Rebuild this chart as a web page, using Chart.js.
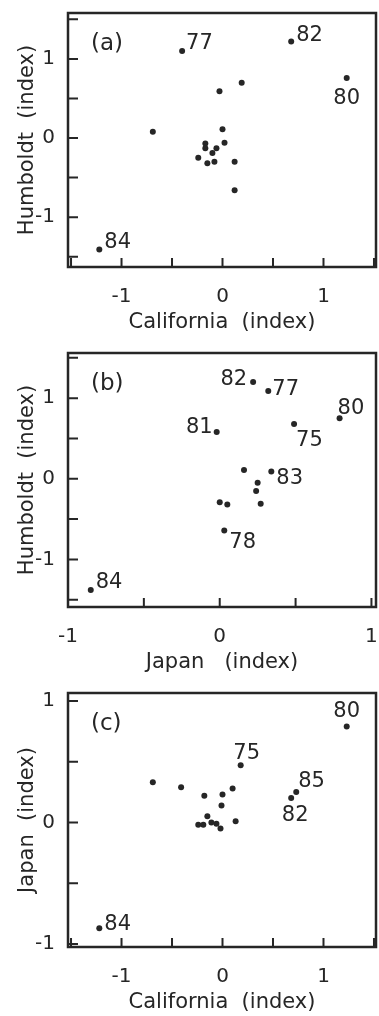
<!DOCTYPE html>
<html>
<head>
<meta charset="utf-8">
<script src="https://cdn.jsdelivr.net/npm/chart.js@4"></script>
<style>
  body { margin: 0; background: #fff; }
  canvas { display: block; }
</style>
</head>
<body>
<canvas id="chartA" width="379" height="340"></canvas>
<canvas id="chartB" width="379" height="340"></canvas>
<canvas id="chartC" width="379" height="336"></canvas>
<script>
// (a) California vs Humboldt
const aCalifornia = [-0.40, 0.68, 1.23, 0.19, -0.03, -0.69, 0.00, 0.02, -0.17, -0.17, -0.06, -0.10, -0.24, -0.15, -0.08, 0.12, 0.12, -1.22];
const aHumboldt   = [1.10, 1.22, 0.76, 0.70, 0.59, 0.08, 0.11, -0.06, -0.07, -0.13, -0.13, -0.19, -0.25, -0.32, -0.30, -0.30, -0.66, -1.41];
const aYears      = ['77', '82', '80', '', '', '', '', '', '', '', '', '', '', '', '', '', '', '84'];

// (b) Japan vs Humboldt
const bJapan      = [0.22, 0.32, 0.79, -0.02, 0.49, 0.16, 0.34, 0.25, 0.24, 0.00, 0.05, 0.27, 0.03, -0.85];
const bHumboldt   = [1.20, 1.09, 0.75, 0.58, 0.68, 0.11, 0.09, -0.05, -0.15, -0.29, -0.32, -0.31, -0.64, -1.38];
const bYears      = ['82', '77', '80', '81', '75', '', '83', '', '', '', '', '', '78', '84'];

// (c) California vs Japan
const cCalifornia = [1.23, 0.18, 0.73, 0.68, -0.69, -0.41, -0.18, 0.00, 0.10, -0.01, -0.15, 0.13, -0.24, -0.19, -0.11, -0.06, -0.02, -1.22];
const cJapan      = [0.79, 0.47, 0.25, 0.20, 0.33, 0.29, 0.22, 0.23, 0.28, 0.14, 0.05, 0.01, -0.02, -0.02, 0.00, -0.01, -0.05, -0.87];
const cYears      = ['80', '75', '85', '82', '', '', '', '', '', '', '', '', '', '', '', '', '', '84'];

const INK = '#262626';
const FAMILY = '"DejaVu Sans", sans-serif';

// where each year label sits relative to its dot: [dx, dy(baseline), align]
const placeA = { '77': [4, -2, 'left'], '82': [5, 0, 'left'], '80': [0, 26, 'center'], '84': [5, -2, 'left'] };
const placeB = { '82': [-6, 3, 'right'], '77': [4, 4, 'left'], '80': [-2, -4, 'left'], '81': [-4, 1, 'right'],
                 '75': [2, 22, 'left'], '83': [5, 12, 'left'], '78': [5, 18, 'left'], '84': [5, -2, 'left'] };
const placeC = { '80': [0, -9, 'center'], '75': [6, -6, 'center'], '85': [2, -5, 'left'], '82': [4, 23, 'center'], '84': [5, 2, 'left'] };

function framePlugin(letter, years, place) {
    return {
        id: 'frame',
        afterDraw(chart) {
            const { ctx, chartArea: a, scales: { x, y } } = chart;
            ctx.save();
            ctx.strokeStyle = INK;
            ctx.lineWidth = 2.5;
            ctx.strokeRect(a.left, a.top, a.right - a.left, a.bottom - a.top);

            // inward tick marks
            ctx.lineWidth = 2;
            ctx.beginPath();
            x.ticks.forEach(t => {
                const px = x.getPixelForValue(t.value);
                ctx.moveTo(px, a.bottom);
                ctx.lineTo(px, a.bottom - 9);
            });
            y.ticks.forEach(t => {
                const py = y.getPixelForValue(t.value);
                ctx.moveTo(a.left, py);
                ctx.lineTo(a.left + 10, py);
            });
            ctx.stroke();

            // year labels
            ctx.fillStyle = INK;
            ctx.font = '21px ' + FAMILY;
            ctx.textBaseline = 'alphabetic';
            const meta = chart.getDatasetMeta(0);
            years.forEach((yr, i) => {
                if (!yr) return;
                const p = meta.data[i];
                const [dx, dy, align] = place[yr];
                ctx.textAlign = align;
                ctx.fillText(yr, p.x + dx, p.y + dy);
            });

            // panel letter
            ctx.font = '23px ' + FAMILY;
            ctx.textAlign = 'left';
            ctx.textBaseline = 'middle';
            ctx.fillText(letter, a.left + 23, a.top + 31);
            ctx.restore();
        }
    };
}

function noPad(s) {
    s.paddingTop = 0; s.paddingBottom = 0; s.paddingLeft = 0; s.paddingRight = 0;
}

function makeChart(id, xs, ys, years, cfg) {
    const canvas = document.getElementById(id);
    const points = xs.map((v, i) => ({ x: v, y: ys[i] }));
    const tickFont = { family: FAMILY, size: 20 };
    const titleFont = { family: FAMILY, size: 21 };
    const intOnly = v => (Math.abs(v - Math.round(v)) < 1e-9 ? String(Math.round(v)) : '');

    new Chart(canvas.getContext('2d'), {
        type: 'scatter',
        data: {
            datasets: [{
                data: points,
                pointRadius: 3,
                pointHoverRadius: 3,
                pointBackgroundColor: INK,
                pointBorderWidth: 0,
                clip: false
            }]
        },
        options: {
            responsive: false,
            animation: false,
            events: [],
            layout: { padding: { top: 13, right: 1, left: 0, bottom: 0 } },
            plugins: { legend: { display: false }, tooltip: { enabled: false } },
            scales: {
                x: {
                    type: 'linear',
                    min: cfg.xMin,
                    max: cfg.xMax,
                    afterFit: s => { s.height = canvas.height - 267; noPad(s); },
                    grid: { display: false },
                    border: { display: false },
                    ticks: { stepSize: 0.5, includeBounds: false, autoSkip: false, maxRotation: 0,
                             padding: 10, color: INK, font: tickFont, callback: intOnly },
                    title: { display: true, text: cfg.xTitle, color: INK, font: titleFont,
                             padding: { top: 0, bottom: cfg.xTitlePad } }
                },
                y: {
                    type: 'linear',
                    min: cfg.yMin,
                    max: cfg.yMax,
                    afterFit: s => { s.width = 68; noPad(s); },
                    grid: { display: false },
                    border: { display: false },
                    ticks: { stepSize: 0.5, includeBounds: false, autoSkip: false,
                             padding: 5, color: INK, font: tickFont, callback: intOnly },
                    title: { display: true, text: cfg.yTitle, color: INK, font: titleFont,
                             padding: { top: 15, bottom: 0 } }
                }
            }
        },
        plugins: [framePlugin(cfg.letter, years, cfg.place)]
    });
}

makeChart('chartA', aCalifornia, aHumboldt, aYears, {
    letter: '(a)', place: placeA, xMin: -1.53, xMax: 1.52, yMin: -1.63, yMax: 1.58,
    xTitle: 'California  (index)', yTitle: 'Humboldt  (index)', xTitlePad: 5
});
makeChart('chartB', bJapan, bHumboldt, bYears, {
    letter: '(b)', place: placeB, xMin: -1.0, xMax: 1.03, yMin: -1.59, yMax: 1.56,
    xTitle: 'Japan   (index)', yTitle: 'Humboldt  (index)', xTitlePad: 5
});
makeChart('chartC', cCalifornia, cJapan, cYears, {
    letter: '(c)', place: placeC, xMin: -1.53, xMax: 1.52, yMin: -1.025, yMax: 1.065,
    xTitle: 'California  (index)', yTitle: 'Japan  (index)', xTitlePad: 1
});
</script>
</body>
</html>
